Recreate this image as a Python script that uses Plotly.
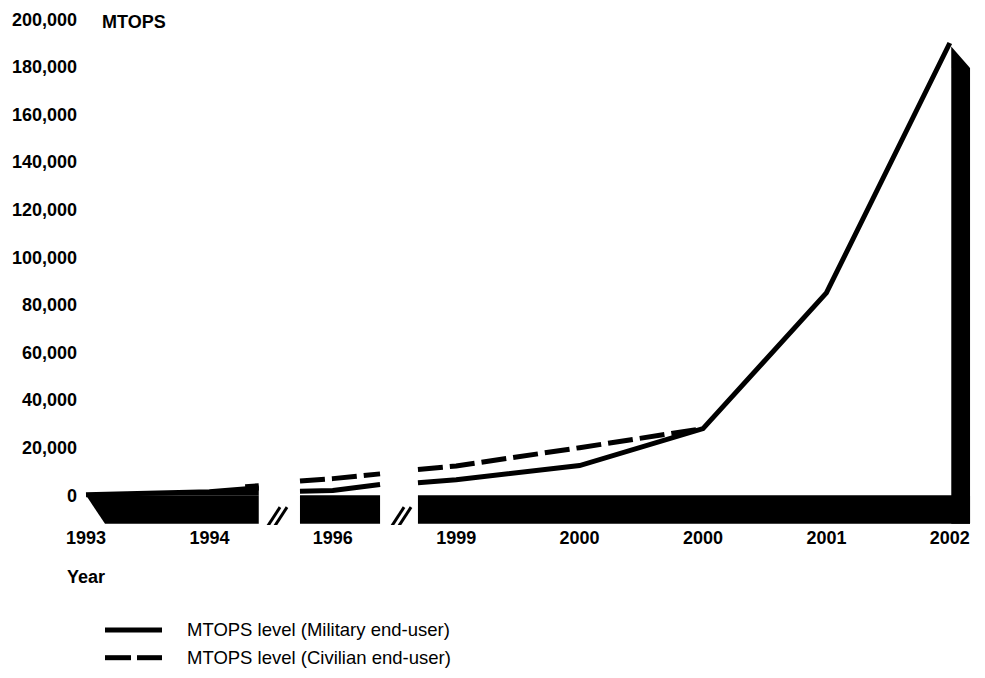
import plotly.graph_objects as go

# ---------------- data ----------------
years = ["1993", "1994", "1996", "1999", "2000", "2000", "2001", "2002"]
year_pos = [0, 1, 2, 3, 4, 5, 6, 7]

# line values per broken-axis segment (x = position on the category axis)
mil_seg_x = [[0, 1, 1.40], [1.734, 2, 2.383], [2.69, 3, 4, 5, 6, 7]]
mil_seg_y = [[200, 1500, 3100], [1700, 2000, 4500], [5300, 6500, 12500, 28000, 85000, 190000]]
civ_seg_x = [[1.29, 1.40], [1.734, 2, 2.383], [2.69, 3, 4, 5]]
civ_seg_y = [[3600, 4000], [6000, 7000, 9000], [10800, 12300, 20000, 28000]]

y_ticks = list(range(0, 200001, 20000))

series_names = ["MTOPS level (Military end-user)", "MTOPS level (Civilian end-user)"]

# ---------------- layout constants ----------------
OFF = 8                       # page body margin of the html page
W, H = 985 - OFF, 678 - OFF
L, R, T, B = 70, 5, 2, 153
PW, PH = W - L - R, H - T - B
FONT = "Liberation Sans, Arial, Helvetica, sans-serif"
BASE_DEPTH = 12000
UNITS_PER_PX = 416
PX_PER_CAT = 123.4
X0_SCREEN, Y0_SCREEN = 86, 495
segments = [(0.0, 1.40), (1.734, 2.383), (2.69, 7.164)]
breaks = [1.548, 2.553]


def paper(xs, ys):
    xf, yf = xs - OFF, ys - OFF
    return (xf - L) / PW, (H - B - yf) / PH


def join(xs_list, ys_list):
    X, Y = [], []
    for xs, ys in zip(xs_list, ys_list):
        if X:
            X.append(None)
            Y.append(None)
        X += xs
        Y += ys
    return X, Y


fig = go.Figure()

# solid fill under the first (pre-break) stretch of the military line
fig.add_trace(go.Scatter(x=mil_seg_x[0], y=mil_seg_y[0], mode="lines",
                         line=dict(color="black", width=0), fill="tozeroy",
                         fillcolor="black", showlegend=False, hoverinfo="skip"))

mx, my = join(mil_seg_x, mil_seg_y)
cx, cy = join(civ_seg_x, civ_seg_y)
fig.add_trace(go.Scatter(x=cx, y=cy, mode="lines", name=series_names[1],
                         line=dict(color="black", width=5, dash="25px,7px"),
                         showlegend=False))
fig.add_trace(go.Scatter(x=mx, y=my, mode="lines", name=series_names[0],
                         line=dict(color="black", width=5),
                         showlegend=False))

shapes = []
# base blocks
s0 = segments[0]
shapes.append(dict(type="path", xref="x", yref="y", layer="below",
                   path=f"M {s0[0]},0 L {s0[0] + 0.154},{-BASE_DEPTH} L {s0[1]},{-BASE_DEPTH} L {s0[1]},0 Z",
                   fillcolor="black", line=dict(width=0)))
for (a, b) in segments[1:]:
    shapes.append(dict(type="rect", xref="x", yref="y", layer="below",
                       x0=a, x1=b, y0=-BASE_DEPTH, y1=0,
                       fillcolor="black", line=dict(width=0)))
# right-hand vertical side bar
peak = mil_seg_y[-1][-1]
xe = segments[-1][1]
shapes.append(dict(type="path", xref="x", yref="y", layer="below",
                   path=f"M 7.012,{peak - 1500} L {xe},{peak - 10500} L {xe},{-BASE_DEPTH} L 7.012,{-BASE_DEPTH} Z",
                   fillcolor="black", line=dict(width=0)))
# axis break marks "//"
for bx in breaks:
    for (dx0, dy0, dx1, dy1) in [(-10, -10, 3, 10), (-3, -10, 10, 10)]:
        shapes.append(dict(type="line", xref="x", yref="y",
                           xsizemode="pixel", ysizemode="pixel",
                           xanchor=bx, yanchor=-9200,
                           x0=dx0, y0=dy0, x1=dx1, y1=dy1,
                           line=dict(color="black", width=3)))

# manual legend
lx0, lx1 = paper(105, 631), paper(162, 631)
shapes.append(dict(type="line", xref="paper", yref="paper",
                   x0=lx0[0], y0=lx0[1], x1=lx1[0], y1=lx1[1],
                   line=dict(color="black", width=5)))
for (a, b) in [(105, 131), (137, 162)]:
    p0, p1 = paper(a, 659), paper(b, 659)
    shapes.append(dict(type="line", xref="paper", yref="paper",
                       x0=p0[0], y0=p0[1], x1=p1[0], y1=p1[1],
                       line=dict(color="black", width=5)))

annotations = []
for name, yp in zip(series_names, [631, 659]):
    px_, py_ = paper(185, yp)
    annotations.append(dict(text=name, xref="paper", yref="paper", x=px_, y=py_,
                            xanchor="left", yanchor="middle", showarrow=False,
                            font=dict(family=FONT, size=18.5, color="black")))
px_, py_ = paper(100, 17)
annotations.append(dict(text="MTOPS", xref="paper", yref="paper", x=px_, y=py_,
                        xanchor="left", yanchor="middle", showarrow=False,
                        font=dict(family=FONT, size=18, color="black", weight="bold")))
px_, py_ = paper(65, 578)
annotations.append(dict(text="Year", xref="paper", yref="paper", x=px_, y=py_,
                        xanchor="left", yanchor="middle", showarrow=False,
                        font=dict(family=FONT, size=18, color="black", weight="bold")))

# axis ranges derived from the screen geometry
plot_left_s, plot_right_s = L + OFF, W - R + OFF
plot_top_s, plot_bot_s = T + OFF, H - B + OFF
x_range = [(plot_left_s - X0_SCREEN) / PX_PER_CAT, (plot_right_s - X0_SCREEN) / PX_PER_CAT]
y_range = [(Y0_SCREEN - plot_bot_s) * UNITS_PER_PX, (Y0_SCREEN - plot_top_s) * UNITS_PER_PX]

fig.update_layout(
    width=W, height=H,
    margin=dict(l=L, r=R, t=T, b=B, pad=0),
    paper_bgcolor="white", plot_bgcolor="white",
    showlegend=False,
    shapes=shapes, annotations=annotations,
    xaxis=dict(range=x_range,
               tickmode="array", tickvals=year_pos, ticktext=years,
               showgrid=False, zeroline=False, showline=False, ticks="",
               ticklabeloverflow="allow",
               tickfont=dict(family=FONT, size=18, color="black", weight="bold")),
    yaxis=dict(range=y_range,
               tickmode="array", tickvals=y_ticks, tickformat=",",
               showgrid=False, zeroline=False, showline=False, ticks="",
               ticklabeloverflow="allow",
               tickfont=dict(family=FONT, size=18, color="black", weight="bold")),
)

fig.write_html("out.html")
